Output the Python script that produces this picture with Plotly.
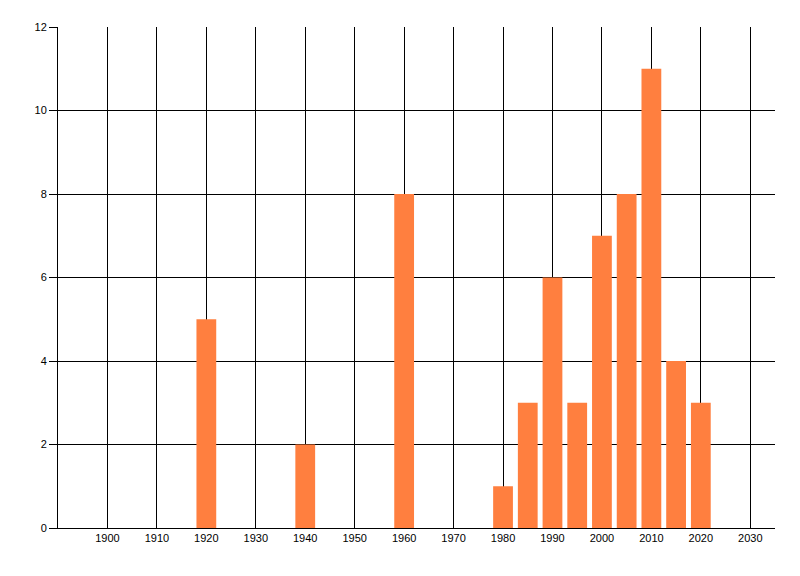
import plotly.graph_objects as go

years = [1920, 1940, 1960, 1980, 1985, 1990, 1995, 2000, 2005, 2010, 2015, 2020]
counts = [5, 2, 8, 1, 3, 6, 3, 7, 8, 11, 4, 3]
x_ticks = list(range(1900, 2031, 10))
y_ticks = list(range(0, 13, 2))

fig = go.Figure()
fig.add_trace(go.Bar(
    x=years, y=counts, width=4,
    marker=dict(color="#FF7F3F", line=dict(width=0)),
))

fig.update_layout(
    width=792, height=568,
    paper_bgcolor="white", plot_bgcolor="white",
    margin=dict(l=50, r=25, t=19, b=48),
    showlegend=False,
    font=dict(family="Liberation Sans, Arial, sans-serif", size=11, color="black"),
    xaxis=dict(
        range=[1890, 2035], tickmode="array", tickvals=x_ticks,
        ticktext=[str(t) for t in x_ticks],
        showgrid=True, gridcolor="black", gridwidth=1,
        showline=True, linecolor="black", linewidth=1,
        ticks="", zeroline=False, layer="below traces",
    ),
    yaxis=dict(
        range=[0, 12], tickmode="array", tickvals=y_ticks,
        showgrid=True, gridcolor="black", gridwidth=1,
        showline=True, linecolor="black", linewidth=1,
        ticks="outside", ticklen=8, tickcolor="black", tickwidth=1,
        zeroline=False,
    ),
)

fig.write_html("out.html")
